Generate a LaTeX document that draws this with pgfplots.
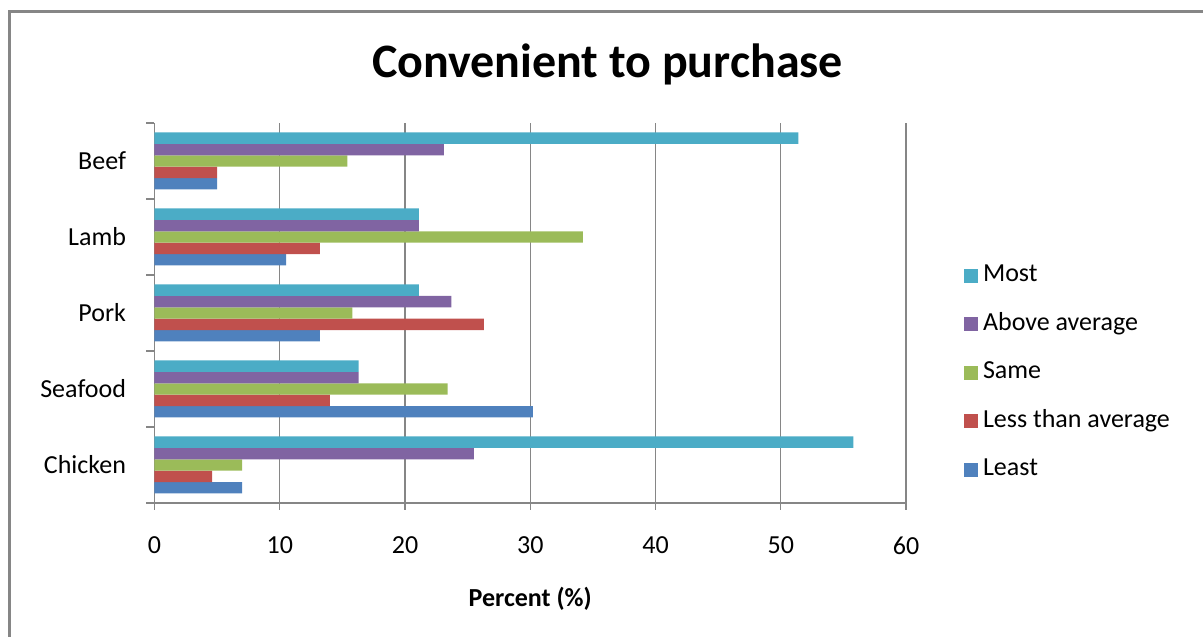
\documentclass[border=0pt]{standalone}
\usepackage{fontspec}
\setmainfont{Carlito}
\usepackage{pgfplots}
\pgfplotsset{compat=1.18}
\definecolor{cMost}{HTML}{4BACC6}
\definecolor{cAbove}{HTML}{8064A2}
\definecolor{cSame}{HTML}{9BBB59}
\definecolor{cLess}{HTML}{C0504D}
\definecolor{cLeast}{HTML}{4F81BD}
\definecolor{gridgray}{HTML}{868686}
\newcommand{\lbl}{\fontsize{26}{31}\selectfont}
\begin{document}
\begin{tikzpicture}
\begin{axis}[
  name=ax,
  scale only axis, width=751.5pt, height=380pt,
  xmin=0, xmax=60, ymin=-0.5, ymax=4.5,
  axis x line*=bottom, axis y line*=left,
  axis line style={gridgray, line width=1.2pt},
  xtick={0,10,...,60},
  xmajorgrids, grid style={gridgray, line width=1.2pt},
  ytick={0,1,2,3,4},
  yticklabels={Chicken,Seafood,Pork,Lamb,Beef},
  minor ytick={-0.5,0.5,...,4.5},
  major y tick style={draw=none},
  minor y tick style={gridgray, line width=1.2pt},
  major x tick style={gridgray, line width=1.2pt},
  tick align=outside,
  major tick length=7pt, minor tick length=8pt,
  ticklabel style={font=\lbl},
  /pgf/number format/assume math mode=true,
  yticklabel style={xshift=-18pt},
  xticklabel style={yshift=-23pt},
  xlabel={\bfseries Percent (\%)},
  xlabel style={font=\lbl, at={(axis description cs:0.5,0)}, anchor=base, yshift=-103pt},
  xbar, bar width=0.15,
  reverse legend,
  legend cell align=left,
  legend style={draw=none, fill=none, at={(1.077,0.343)}, anchor=west,
    font=\lbl, row sep=26.5pt, column sep=5pt, inner sep=0pt,
    nodes={inner sep=0pt, text height=17pt, text depth=5pt}},
  legend image code/.code={\fill[#1] (0pt,-7pt) rectangle (14pt,7pt);},
]
\addplot[fill=cLeast, draw=none, bar shift=-0.3] coordinates {(7.0,0) (30.2,1) (13.2,2) (10.5,3) (5.0,4)};
\addlegendentry{Least}
\addplot[fill=cLess, draw=none, bar shift=-0.15] coordinates {(4.6,0) (14.0,1) (26.3,2) (13.2,3) (5.0,4)};
\addlegendentry{Less than average}
\addplot[fill=cSame, draw=none, bar shift=0] coordinates {(7.0,0) (23.4,1) (15.8,2) (34.2,3) (15.4,4)};
\addlegendentry{Same}
\addplot[fill=cAbove, draw=none, bar shift=0.15] coordinates {(25.5,0) (16.3,1) (23.7,2) (21.1,3) (23.1,4)};
\addlegendentry{Above average}
\addplot[fill=cMost, draw=none, bar shift=0.3] coordinates {(55.8,0) (16.3,1) (21.1,2) (21.1,3) (51.4,4)};
\addlegendentry{Most}
\end{axis}
\coordinate (O) at ([xshift=-154.5pt,yshift=-134pt]ax.south west);
\begin{scope}[shift={(O)}, x=1pt, y=1pt]
\draw[gridgray, line width=2.5pt] (9.5,0) -- (9.5,625.5) -- (1203,625.5);
\node[anchor=base, font=\bfseries\fontsize{48}{57}\selectfont] at (607.5,559) {Convenient to purchase};
\end{scope}
\pgfresetboundingbox
\path[use as bounding box] (O) rectangle ([xshift=1203pt,yshift=637pt]O);
\end{tikzpicture}
\end{document}
